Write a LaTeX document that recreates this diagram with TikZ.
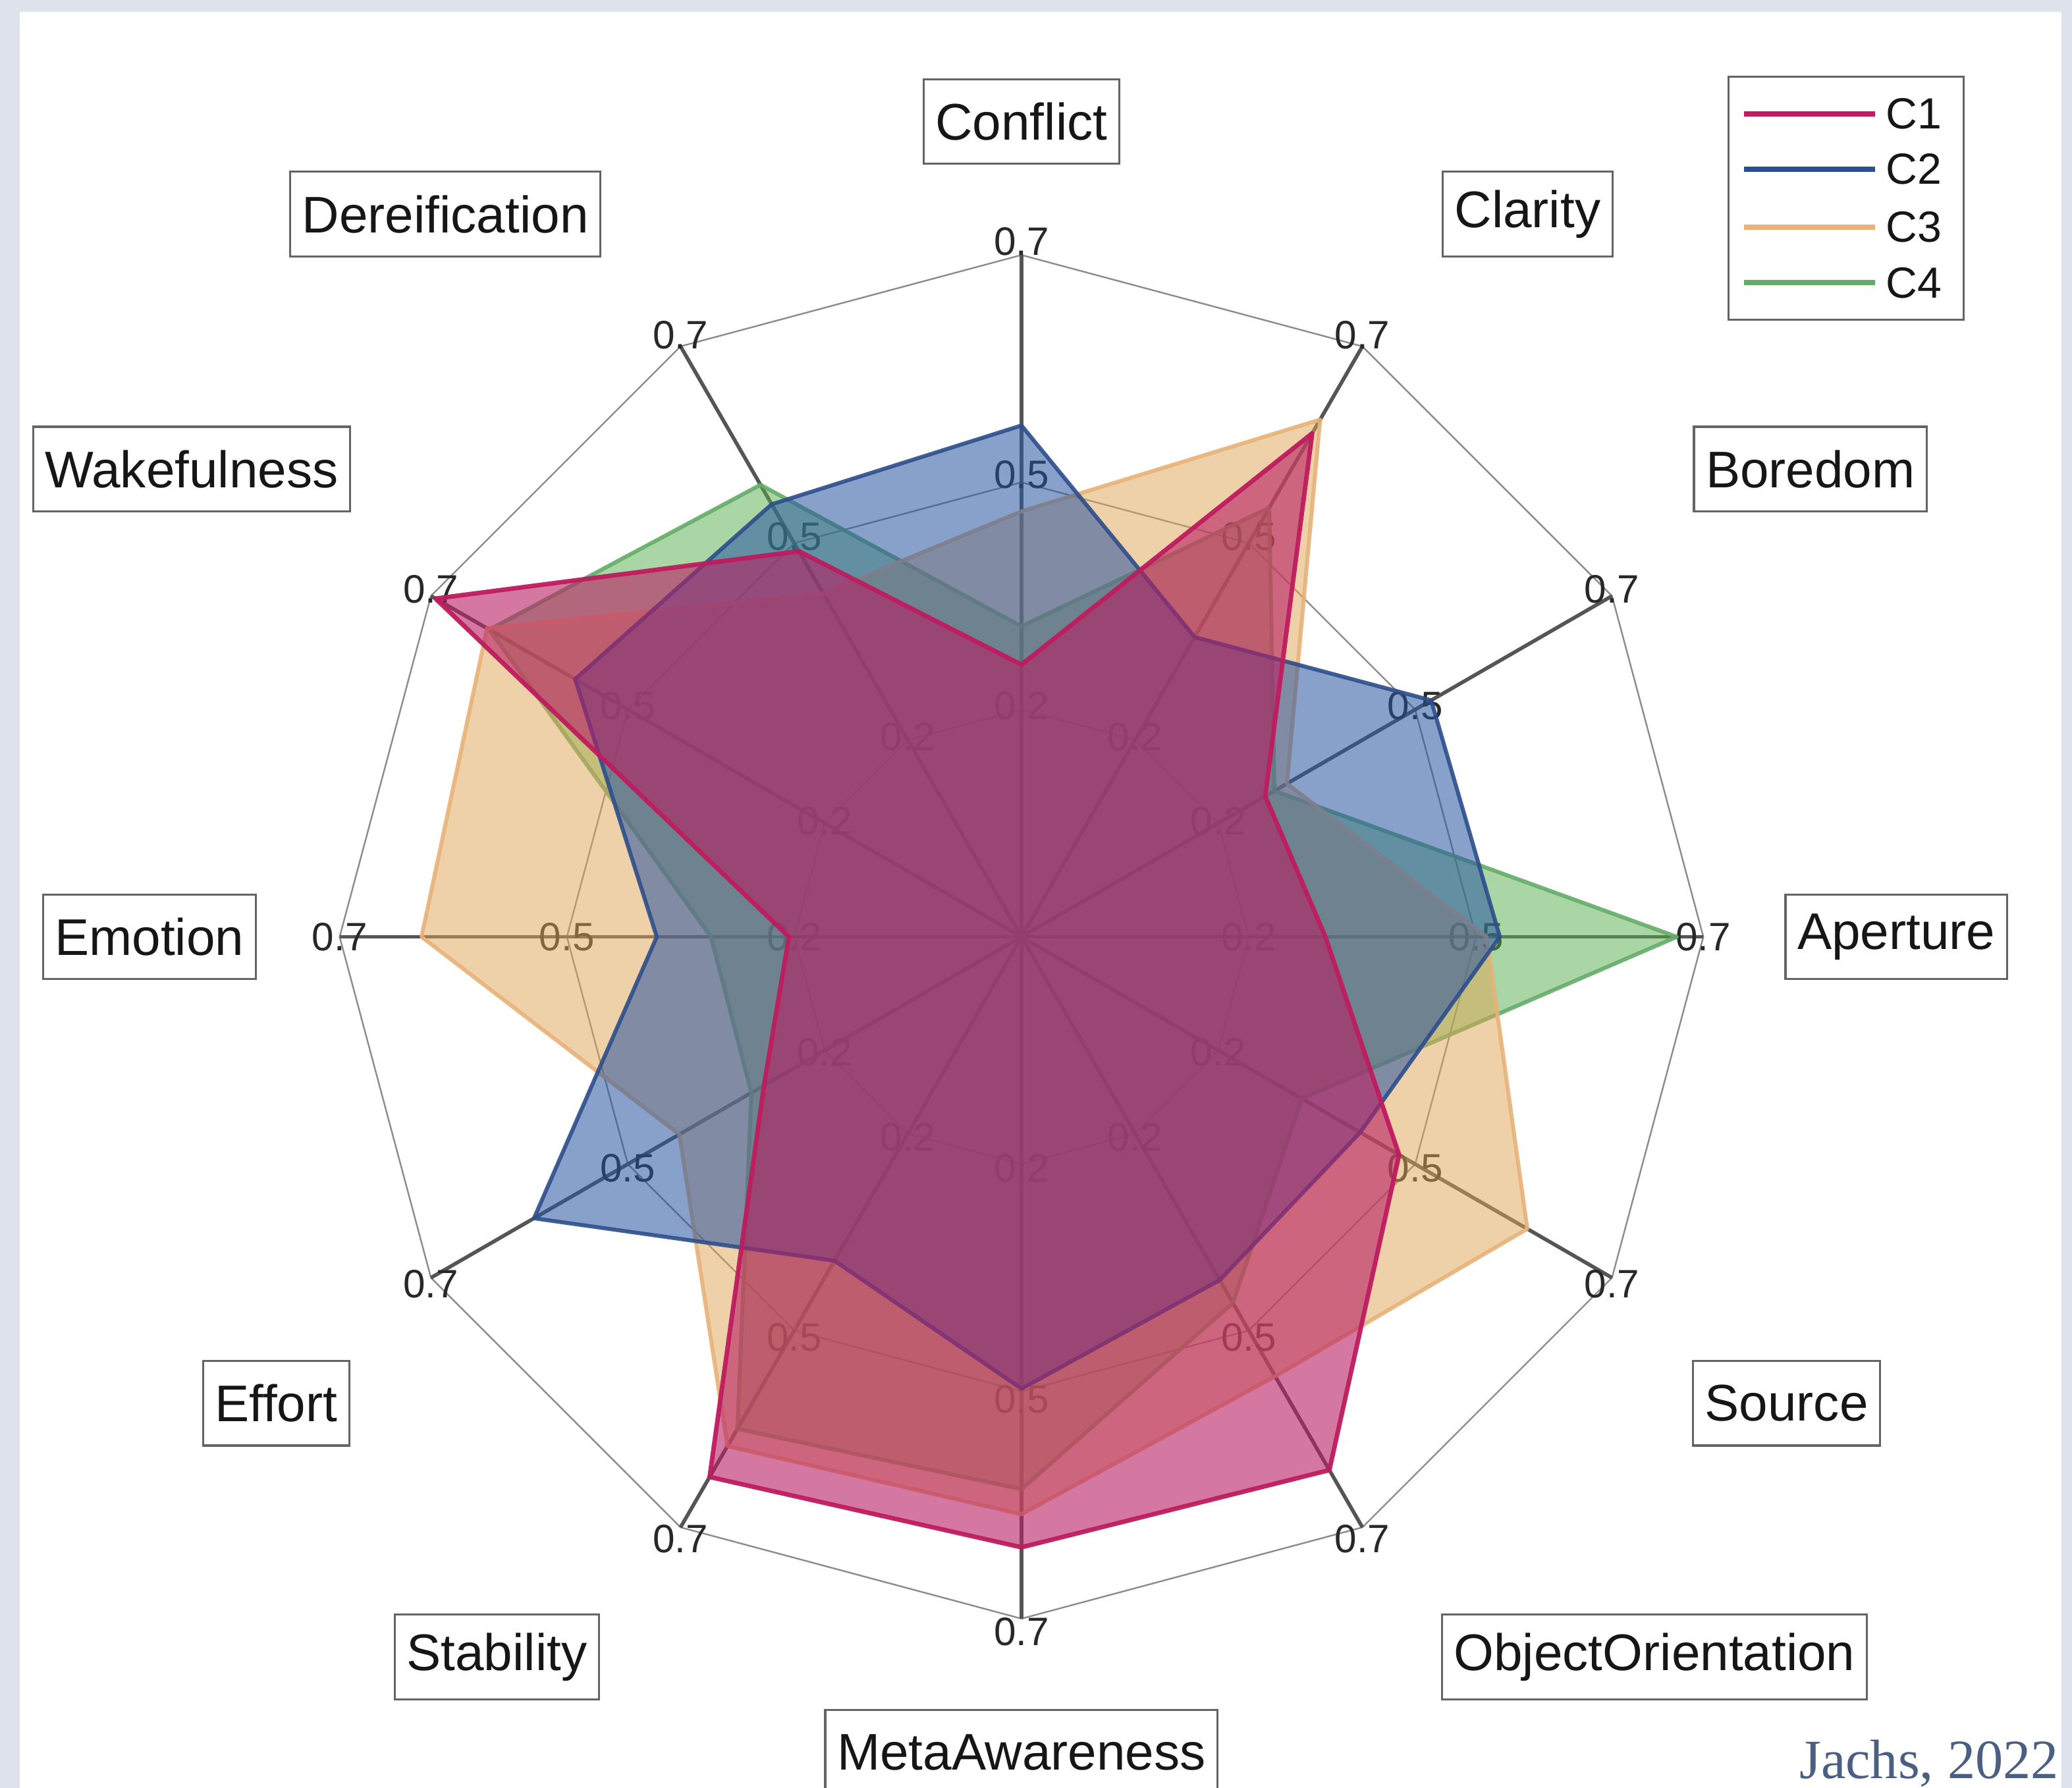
\documentclass[tikz,border=0pt]{standalone}
\usepackage{fontspec}
\setmainfont{Liberation Sans}
\newfontfamily\jfont{Liberation Serif}
\usetikzlibrary{calc}
\definecolor{bgband}{RGB}{222,227,235}
\definecolor{cone}{RGB}{184,30,99}
\definecolor{conel}{RGB}{190,28,95}
\definecolor{ctwo}{RGB}{40,85,160}
\definecolor{ctwol}{RGB}{45,78,140}
\definecolor{cthree}{RGB}{225,165,85}
\definecolor{cthreel}{RGB}{232,178,120}
\definecolor{cfour}{RGB}{85,175,75}
\definecolor{cfourl}{RGB}{100,172,105}
\definecolor{spokecol}{RGB}{85,85,85}
\definecolor{ringcol}{RGB}{140,140,140}
\definecolor{boxcol}{RGB}{100,100,100}
\definecolor{txtcol}{RGB}{22,22,22}
\definecolor{valcol}{RGB}{40,40,40}
\definecolor{jcol}{RGB}{75,95,130}
\begin{document}
\begin{tikzpicture}[x=1pt,y=-1pt,
  axbox/.style={draw=boxcol, line width=1.6pt, fill=white, text=txtcol,
    font=\fontsize{39}{39}\selectfont, minimum height=64pt, inner xsep=9pt, inner ysep=0pt},
  val/.style={text=valcol, font=\fontsize{30}{30}\selectfont, inner sep=0pt},
  ringline/.style={draw=ringcol, line width=1.2pt},
  spokeline/.style={draw=spokecol, line width=2.8pt},
  polyone/.style={fill=cone, fill opacity=0.6, draw=conel, draw opacity=0.95, line width=3.4pt, line join=round},
  polytwo/.style={fill=ctwo, fill opacity=0.55, draw=ctwol, draw opacity=0.9, line width=3pt, line join=round},
  polythree/.style={fill=cthree, fill opacity=0.5, draw=cthreel, draw opacity=0.9, line width=3pt, line join=round},
  polyfour/.style={fill=cfour, fill opacity=0.5, draw=cfourl, draw opacity=0.9, line width=3pt, line join=round},
  legline/.style={line width=4pt},
  legtxt/.style={anchor=west, text=txtcol, font=\fontsize{33}{33}\selectfont, inner sep=0pt}
]
\useasboundingbox (0,0) rectangle (1568,1353);
\fill[bgband] (0,0) rectangle (1568,1353);
\fill[white] (15,9) rectangle (1560,1353);

\begin{scope}[shift={(773,709)}]
  \coordinate (O) at (0,0);
  % rings
  \foreach \r in {172,344,516}
    \draw[ringline] (-90:\r) \foreach \a in {-60,-30,...,240}{ -- (\a:\r)} -- cycle;
  % spokes
  \foreach \a [count=\i] in {-90,-60,...,240}
    \draw[spokeline] (O) -- (\a:516) coordinate (tip\i);
  % value labels
  \foreach \a [count=\i] in {-90,-60,...,240} {
    \node[val] (vtwo\i) at ($(\a:172)+(0,{3*sin(\a)})$) {0.2};
    \node[val] (vfive\i) at ($(\a:344)+(0,{6*sin(\a)})$) {0.5};
    \node[val] (vseven\i) at ($(\a:516)+(0,{10*sin(\a)})$) {0.7};
  }
  % C4 green
  \draw[polyfour] (-90:235) -- (-60:375) -- (-30:221) -- (0:496) -- (30:245) -- (60:320)
    -- (90:418) -- (120:430) -- (150:236) -- (180:235) -- (210:465) -- (240:395) -- cycle;
  % C3 orange
  \draw[polythree] (-90:322) -- (-60:452) -- (-30:232) -- (0:352) -- (30:442) -- (60:384)
    -- (90:437) -- (120:445) -- (150:299) -- (180:454) -- (210:467) -- (240:300) -- cycle;
  % C2 blue
  \draw[polytwo] (-90:387) -- (-60:262) -- (-30:358) -- (0:362) -- (30:296) -- (60:300)
    -- (90:342) -- (120:283) -- (150:426) -- (180:276) -- (210:390) -- (240:378) -- cycle;
  % C1 magenta
  \draw[polyone] (-90:206) -- (-60:440) -- (-30:213) -- (0:230) -- (30:330) -- (60:466)
    -- (90:462) -- (120:472) -- (150:225) -- (180:176) -- (210:512) -- (240:337) -- cycle;
\end{scope}

% axis labels
\node[axbox] (conflict) at (773,92) {Conflict};
\node[axbox] (clarity) at (1156,162) {Clarity};
\node[axbox] (boredom) at (1370,355) {Boredom};
\node[axbox] (aperture) at (1435,709) {Aperture};
\node[axbox] (source) at (1352,1062) {Source};
\node[axbox] (objor) at (1252,1254) {ObjectOrientation};
\node[axbox] (meta) at (773,1326) {MetaAwareness};
\node[axbox] (stability) at (376,1254) {Stability};
\node[axbox] (effort) at (209,1062) {Effort};
\node[axbox] (emotion) at (113,709) {Emotion};
\node[axbox] (wakeful) at (145,355) {Wakefulness};
\node[axbox] (dereif) at (337,162) {Dereification};

% legend
\node[draw=boxcol, line width=1.6pt, fill=white, minimum width=178pt, minimum height=184pt, inner sep=0pt] (legend) at (1397,150) {};
\draw[legline, conel] (1320,86) -- (1419,86);
\draw[legline, ctwol] (1320,128) -- (1419,128);
\draw[legline, cthreel] (1320,172) -- (1419,172);
\draw[legline, cfourl] (1320,214) -- (1419,214);
\node[legtxt] (lone) at (1427,86) {C1};
\node[legtxt] (ltwo) at (1427,128) {C2};
\node[legtxt] (lthree) at (1427,172) {C3};
\node[legtxt] (lfour) at (1427,214) {C4};

% citation
\node[anchor=base east, inner sep=0pt, text=jcol, font=\jfont\fontsize{42}{42}\selectfont] (cite) at (1558,1346) {Jachs, 2022};
\end{tikzpicture}
\end{document}
